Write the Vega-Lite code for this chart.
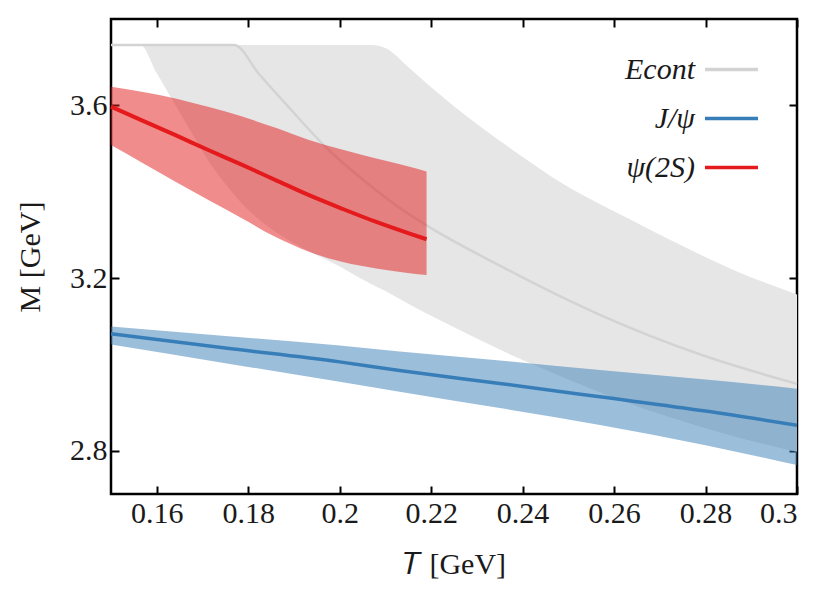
{
  "$schema": "https://vega.github.io/schema/vega-lite/v6.json",
  "autosize": "none",
  "width": 686,
  "height": 475,
  "padding": {"left": 111, "top": 19, "right": 33, "bottom": 99},
  "background": "white",
  "config": {
    "view": {"stroke": "#000000", "strokeWidth": 2.5},
    "font": "Liberation Serif",
    "axis": {
      "grid": false,
      "domain": false,
      "tickColor": "#000000",
      "tickWidth": 2,
      "tickSize": -8,
      "labelFont": "Liberation Serif",
      "labelFontSize": 30,
      "labelColor": "#1a1a1a",
      "titleFont": "Liberation Serif",
      "titleFontSize": 30,
      "titleFontWeight": "normal",
      "titleColor": "#1a1a1a"
    },
    "legend": {
      "symbolType": "stroke",
      "symbolSize": 2809,
      "symbolStrokeWidth": 3.5,
      "labelFont": "Liberation Serif",
      "labelFontSize": 30,
      "labelFontStyle": "italic",
      "labelColor": "#1a1a1a",
      "labelAlign": "right",
      "labelOffset": -65,
      "padding": 0,
      "rowPadding": 5
    }
  },
  "datasets": {
    "gray": [
      {"T": 0.15, "lo": 3.74, "hi": 3.74},
      {"T": 0.1564, "lo": 3.74, "hi": 3.74},
      {"T": 0.16, "lo": 3.675, "hi": 3.74},
      {"T": 0.1641, "lo": 3.6, "hi": 3.74},
      {"T": 0.168, "lo": 3.53, "hi": 3.74},
      {"T": 0.1714, "lo": 3.47, "hi": 3.74},
      {"T": 0.176, "lo": 3.405, "hi": 3.74},
      {"T": 0.18, "lo": 3.358, "hi": 3.74},
      {"T": 0.185, "lo": 3.314, "hi": 3.74},
      {"T": 0.19, "lo": 3.281, "hi": 3.74},
      {"T": 0.1933, "lo": 3.262, "hi": 3.74},
      {"T": 0.2, "lo": 3.227, "hi": 3.74},
      {"T": 0.2043, "lo": 3.201, "hi": 3.74},
      {"T": 0.207, "lo": 3.186, "hi": 3.74},
      {"T": 0.21, "lo": 3.17, "hi": 3.733},
      {"T": 0.2153, "lo": 3.139, "hi": 3.686},
      {"T": 0.22, "lo": 3.113, "hi": 3.642},
      {"T": 0.23, "lo": 3.06, "hi": 3.557},
      {"T": 0.2409, "lo": 3.006, "hi": 3.474},
      {"T": 0.246, "lo": 2.983, "hi": 3.437},
      {"T": 0.2642, "lo": 2.906, "hi": 3.332},
      {"T": 0.2789, "lo": 2.856, "hi": 3.254},
      {"T": 0.2861, "lo": 2.834, "hi": 3.219},
      {"T": 0.3, "lo": 2.798, "hi": 3.162}
    ],
    "econt": [
      {"T": 0.15, "M": 3.74, "series": "Econt"},
      {"T": 0.1769, "M": 3.74, "series": "Econt"},
      {"T": 0.1824, "M": 3.672, "series": "Econt"},
      {"T": 0.1891, "M": 3.593, "series": "Econt"},
      {"T": 0.197, "M": 3.503, "series": "Econt"},
      {"T": 0.2072, "M": 3.41, "series": "Econt"},
      {"T": 0.2131, "M": 3.363, "series": "Econt"},
      {"T": 0.219, "M": 3.322, "series": "Econt"},
      {"T": 0.235, "M": 3.229, "series": "Econt"},
      {"T": 0.2569, "M": 3.115, "series": "Econt"},
      {"T": 0.2789, "M": 3.023, "series": "Econt"},
      {"T": 0.3, "M": 2.955, "series": "Econt"}
    ],
    "blue": [
      {"T": 0.15, "lo": 3.046, "M": 3.071, "hi": 3.088, "series": "J/ψ"},
      {"T": 0.175, "lo": 3.003, "M": 3.038, "hi": 3.066, "series": "J/ψ"},
      {"T": 0.2, "lo": 2.96, "M": 3.006, "hi": 3.044, "series": "J/ψ"},
      {"T": 0.2131, "lo": 2.937, "M": 2.986, "hi": 3.03, "series": "J/ψ"},
      {"T": 0.235, "lo": 2.899, "M": 2.956, "hi": 3.009, "series": "J/ψ"},
      {"T": 0.2569, "lo": 2.86, "M": 2.925, "hi": 2.987, "series": "J/ψ"},
      {"T": 0.28, "lo": 2.813, "M": 2.892, "hi": 2.965, "series": "J/ψ"},
      {"T": 0.3, "lo": 2.767, "M": 2.859, "hi": 2.944, "series": "J/ψ"}
    ],
    "red": [
      {"T": 0.15, "lo": 3.508, "M": 3.597, "hi": 3.643, "series": "ψ(2S)"},
      {"T": 0.157, "lo": 3.466, "M": 3.564, "hi": 3.631, "series": "ψ(2S)"},
      {"T": 0.1641, "lo": 3.423, "M": 3.531, "hi": 3.616, "series": "ψ(2S)"},
      {"T": 0.1714, "lo": 3.38, "M": 3.496, "hi": 3.596, "series": "ψ(2S)"},
      {"T": 0.1787, "lo": 3.338, "M": 3.462, "hi": 3.574, "series": "ψ(2S)"},
      {"T": 0.186, "lo": 3.295, "M": 3.427, "hi": 3.548, "series": "ψ(2S)"},
      {"T": 0.1933, "lo": 3.261, "M": 3.392, "hi": 3.52, "series": "ψ(2S)"},
      {"T": 0.2007, "lo": 3.237, "M": 3.36, "hi": 3.497, "series": "ψ(2S)"},
      {"T": 0.208, "lo": 3.222, "M": 3.33, "hi": 3.477, "series": "ψ(2S)"},
      {"T": 0.2153, "lo": 3.211, "M": 3.303, "hi": 3.458, "series": "ψ(2S)"},
      {"T": 0.219, "lo": 3.207, "M": 3.29, "hi": 3.447, "series": "ψ(2S)"}
    ]
  },
  "resolve": {"axis": {"x": "independent", "y": "independent"}},
  "layer": [
    {
      "data": {"name": "gray"},
      "mark": {"type": "area", "color": "#e6e6e6", "opacity": 1, "interpolate": "monotone"},
      "encoding": {
        "x": {"field": "T", "type": "quantitative", "scale": {"domain": [0.15, 0.3], "nice": false, "zero": false},
              "axis": {"orient": "bottom", "values": [0.16, 0.18, 0.2, 0.22, 0.24, 0.26, 0.28, 0.3], "labelExpr": "format(datum.value, '~g')", "labelFont": "Liberation Serif", "labelFontSize": 30, "labelPadding": 12, "title": "𝑇  [GeV]", "titleFont": "Liberation Serif", "titlePadding": 21}},
        "y": {"field": "lo", "type": "quantitative", "scale": {"domain": [2.7, 3.8], "nice": false, "zero": false},
              "axis": {"orient": "left", "values": [2.8, 3.2, 3.6], "labelFont": "Liberation Serif", "labelFontSize": 30, "labelPadding": 12, "title": "M [GeV]", "titleFont": "Liberation Serif", "titlePadding": 24}},
        "y2": {"field": "hi"}
      }
    },
    {
      "data": {"name": "econt"},
      "mark": {"type": "line", "strokeWidth": 2.5, "interpolate": "monotone"},
      "encoding": {
        "x": {"field": "T", "type": "quantitative",
              "axis": {"orient": "top", "values": [0.16, 0.18, 0.2, 0.22, 0.24, 0.26, 0.28, 0.3], "labels": false, "title": null}},
        "y": {"field": "M", "type": "quantitative",
              "axis": {"orient": "right", "values": [2.8, 3.2, 3.6], "labels": false, "title": null}},
        "color": {"field": "series", "type": "nominal",
                  "scale": {"domain": ["Econt", "J/ψ", "ψ(2S)"], "range": ["#d3d3d3", "#377eb8", "#e41a1c"]},
                  "legend": {"title": null, "orient": "none", "legendX": 592, "legendY": 22, "labelFont": "Liberation Serif"}}
      }
    },
    {
      "data": {"name": "blue"},
      "mark": {"type": "area", "color": "#377eb8", "opacity": 0.5, "interpolate": "monotone"},
      "encoding": {
        "x": {"field": "T", "type": "quantitative", "axis": null},
        "y": {"field": "lo", "type": "quantitative", "axis": null},
        "y2": {"field": "hi"}
      }
    },
    {
      "data": {"name": "red"},
      "mark": {"type": "area", "color": "#e41a1c", "opacity": 0.5, "interpolate": "monotone"},
      "encoding": {
        "x": {"field": "T", "type": "quantitative", "axis": null},
        "y": {"field": "lo", "type": "quantitative", "axis": null},
        "y2": {"field": "hi"}
      }
    },
    {
      "data": {"name": "blue"},
      "mark": {"type": "line", "strokeWidth": 3.5, "interpolate": "monotone"},
      "encoding": {
        "x": {"field": "T", "type": "quantitative", "axis": null},
        "y": {"field": "M", "type": "quantitative", "axis": null},
        "color": {"field": "series", "type": "nominal"}
      }
    },
    {
      "data": {"name": "red"},
      "mark": {"type": "line", "strokeWidth": 4, "interpolate": "monotone"},
      "encoding": {
        "x": {"field": "T", "type": "quantitative", "axis": null},
        "y": {"field": "M", "type": "quantitative", "axis": null},
        "color": {"field": "series", "type": "nominal"}
      }
    }
  ]
}
